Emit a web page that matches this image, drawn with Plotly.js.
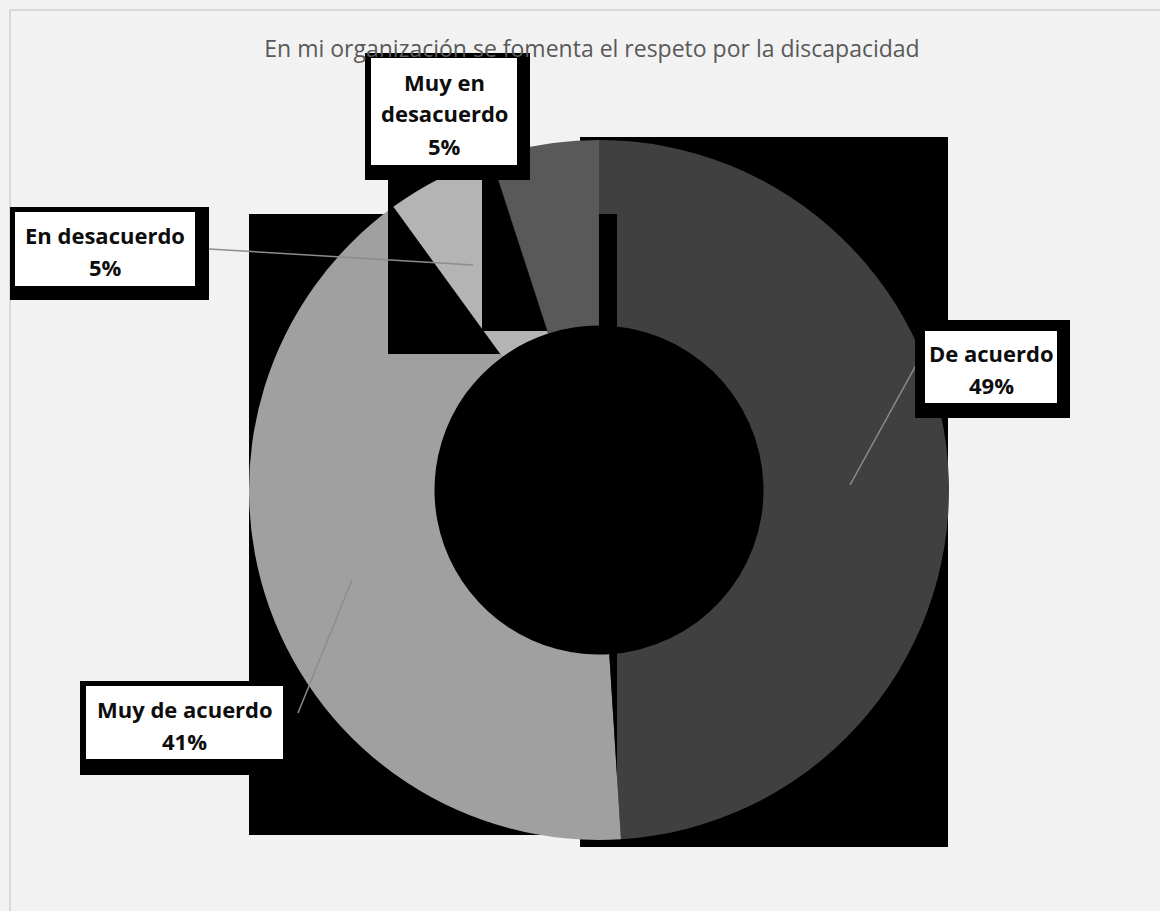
<!DOCTYPE html>
<html>
<head>
<meta charset="utf-8">
<script src="https://cdn.plot.ly/plotly-3.0.1.min.js"></script>
<style>
  html, body { margin: 0; padding: 0; background: #f2f2f2; }
  #chart { width: 1160px; height: 911px; }
</style>
</head>
<body>
<div id="chart"></div>
<script>
var categorias = ['De acuerdo', 'Muy de acuerdo', 'En desacuerdo', 'Muy en desacuerdo'];
var valores = [49, 41, 5, 5];
var textoCaja = ['De acuerdo', 'Muy de acuerdo', 'En desacuerdo', 'Muy en<br>desacuerdo'];
var colores = ['#404040', '#a0a0a0', '#b4b4b4', '#595959'];

var W = 1160, H = 911;
function px(x) { return x / W; }
function py(y) { return 1 - y / H; }

// centro y radio del anillo (px)
var cx = 599, cy = 490, radio = 350;

var total = valores.reduce(function(a, b) { return a + b; }, 0);
var pct = valores.map(function(v) { return Math.round(v / total * 100) + '%'; });
// angulo de inicio de cada porcion (grados, desde las 12, sentido horario)
var acum = [];
valores.reduce(function(s, v, i) { acum[i] = s / total * 360; return s + v; }, 0);

var trace1 = {
  type: 'pie',
  labels: categorias,
  values: valores,
  hole: 0.47,
  sort: false,
  direction: 'clockwise',
  rotation: 0,
  textinfo: 'none',
  hoverinfo: 'label+percent',
  marker: { colors: colores, line: { width: 0 } },
  domain: { x: [px(cx - radio), px(cx + radio)], y: [py(cy + radio), py(cy - radio)] },
  showlegend: false
};

function rect(b, capa, color) {
  return { type: 'rect', xref: 'paper', yref: 'paper', layer: capa,
    x0: px(b[0]), x1: px(b[2]), y0: py(b[3]), y1: py(b[1]),
    fillcolor: color || '#000000', line: { width: 0 } };
}
function poligono(pts, capa, color, ancho) {
  var path = pts.map(function(p, i) {
    return (i ? 'L' : 'M') + px(p[0]) + ',' + py(p[1]);
  }).join(' ');
  if (color) {
    return { type: 'path', xref: 'paper', yref: 'paper', layer: capa, path: path,
      line: { color: color, width: ancho } };
  }
  return { type: 'path', xref: 'paper', yref: 'paper', layer: capa, path: path + ' Z',
    fillcolor: '#000000', line: { width: 0 } };
}
// cortes de un radio con una vertical / horizontal
function yEnX(ang, x) {
  var a = ang * Math.PI / 180, r = (x - cx) / Math.sin(a);
  return cy - r * Math.cos(a);
}
function xEnY(ang, y) {
  var a = ang * Math.PI / 180, r = (cy - y) / Math.cos(a);
  return cx + r * Math.sin(a);
}

// rectangulos negros del original, uno por porcion
var fondoDe = [580, 137, 948, 847];
var fondoMuyDe = [249, 214, 617, 835];
var fondoEn = [388, 180, 530, 354];
var fondoMuyEn = [482, 148, 593, 331];

// cajas: blanco interior [x0, y0, x1, y1] y sombra negra exterior
var cajaBlanca = [
  [925, 331, 1057, 403],
  [86, 686, 283, 759],
  [15, 212, 195, 286],
  [371, 58, 517, 165]
];
var cajaNegra = [
  [915, 320, 1070, 418],
  [80, 681, 290, 775],
  [10, 207, 209, 300],
  [365, 53, 530, 180]
];

var shapes = [
  { type: 'rect', xref: 'paper', yref: 'paper', layer: 'below',
    x0: px(10), x1: 1.02, y0: -0.02, y1: py(10),
    fillcolor: 'rgba(0,0,0,0)', line: { color: '#d0d0d0', width: 1.5 } },
  rect(fondoDe, 'below'),
  rect(fondoMuyDe, 'below'),
  rect(fondoEn, 'below'),
  rect(fondoMuyEn, 'below'),
  // partes del rectangulo que tapan la porcion anterior
  poligono([[cx, fondoMuyDe[1]], [fondoMuyDe[2], fondoMuyDe[1]],
            [fondoMuyDe[2], yEnX(acum[1], fondoMuyDe[2])], [cx, cy]], 'above'),
  poligono([[fondoEn[0], yEnX(acum[2], fondoEn[0])], [xEnY(acum[2], fondoEn[3]), fondoEn[3]],
            [fondoEn[0], fondoEn[3]]], 'above'),
  poligono([[fondoMuyEn[0], fondoMuyEn[1]], [xEnY(acum[3], fondoMuyEn[1]), fondoMuyEn[1]],
            [xEnY(acum[3], fondoMuyEn[3]), fondoMuyEn[3]], [fondoMuyEn[0], fondoMuyEn[3]]], 'above'),
  // lineas guia
  poligono([[850, 485], [915, 367], [925, 367]], 'above', '#8c8c8c', 1.5),
  poligono([[352, 580], [298, 713]], 'above', '#8c8c8c', 1.5),
  poligono([[473, 265], [209, 249]], 'above', '#8c8c8c', 1.5)
];
cajaNegra.forEach(function(b) { shapes.push(rect(b, 'above')); });
cajaBlanca.forEach(function(b) { shapes.push(rect(b, 'above', '#ffffff')); });

// texto de las etiquetas, una linea por anotacion
var interlineado = 32;
var annotations = [];
categorias.forEach(function(c, i) {
  var b = cajaBlanca[i];
  var tx = (b[0] + b[2]) / 2, ty = (b[1] + b[3]) / 2 + 2;
  var lineas = textoCaja[i].split('<br>').concat([pct[i]]);
  lineas.forEach(function(t, k) {
    annotations.push({
      xref: 'paper', yref: 'paper',
      x: px(tx), y: py(ty + (k - (lineas.length - 1) / 2) * interlineado),
      xanchor: 'center', yanchor: 'middle', showarrow: false,
      text: '<b>' + t + '</b>',
      font: { family: 'Open Sans, sans-serif', size: 22, color: '#0d0d0d' }
    });
  });
});

var layout = {
  width: W, height: H,
  margin: { l: 0, r: 0, t: 0, b: 0 },
  paper_bgcolor: '#f2f2f2',
  plot_bgcolor: '#f2f2f2',
  title: {
    text: 'En mi organización se fomenta el respeto por la discapacidad',
    font: { family: 'Open Sans, sans-serif', size: 23, color: '#595959' },
    x: px(592), xanchor: 'center', y: py(49), yanchor: 'middle'
  },
  shapes: shapes,
  annotations: annotations
};

Plotly.newPlot('chart', [trace1], layout, { displayModeBar: false });
</script>
</body>
</html>
